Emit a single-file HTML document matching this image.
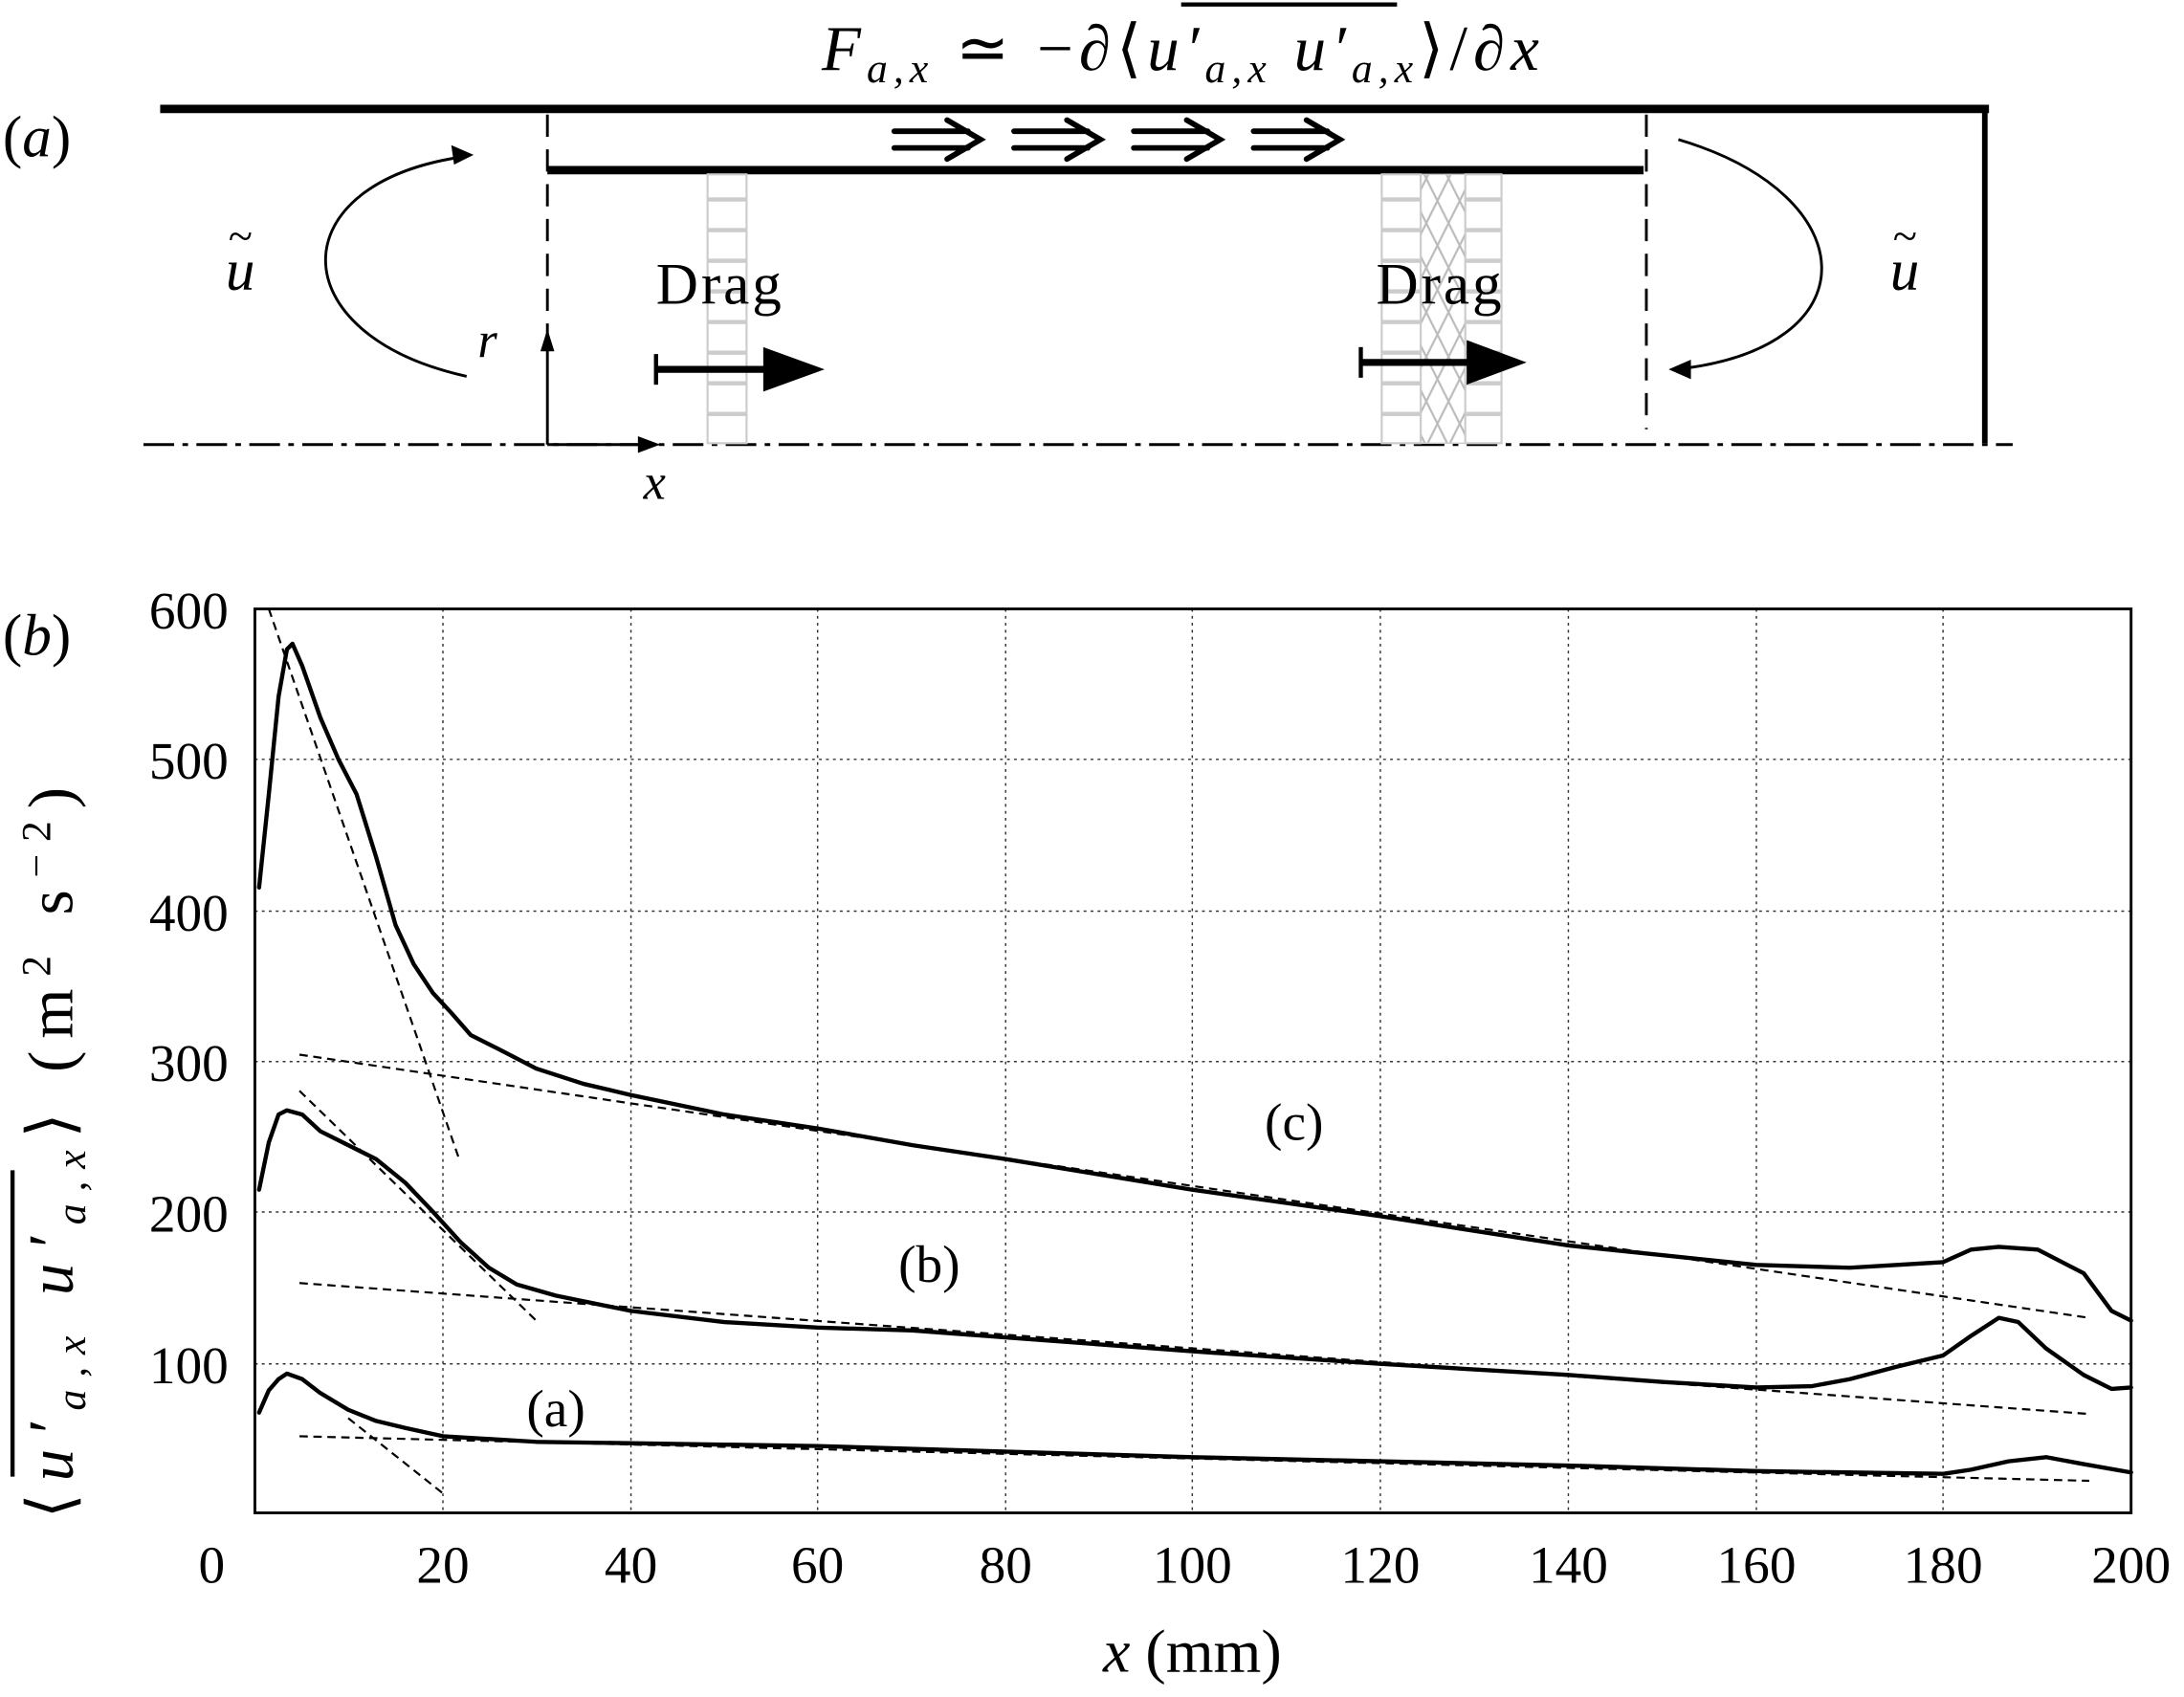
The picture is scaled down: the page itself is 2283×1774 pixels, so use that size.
<!DOCTYPE html>
<html><head><meta charset="utf-8"><style>
html,body{margin:0;padding:0;background:#fff;}
svg{display:block;}
text{font-family:"Liberation Serif",serif;fill:#000;}
</style></head><body>
<svg width="2283" height="1774" viewBox="0 0 1568 1218" xmlns="http://www.w3.org/2000/svg">
<defs>
<pattern id="lad" width="28" height="22" patternUnits="userSpaceOnUse">
<rect x="0" y="0" width="28" height="22" fill="#fff"/>
<line x1="0" y1="11" x2="28" y2="11" stroke="#ccc" stroke-width="3"/>
</pattern>
<pattern id="xh" width="16" height="32" patternUnits="userSpaceOnUse">
<path d="M0 0 L16 32 M16 0 L0 32" stroke="#bbb" stroke-width="1.5" fill="none"/>
</pattern>
</defs>
<!-- Title -->
<text x="590" y="50" font-size="46" font-style="italic" textLength="515" lengthAdjust="spacing">F<tspan font-size="30" dy="9">a,x</tspan><tspan dy="-9" font-style="normal"> ≃  −∂⟨</tspan><tspan>u′</tspan><tspan font-size="30" dy="9">a,x</tspan><tspan dy="-9"> u′</tspan><tspan font-size="30" dy="9">a,x</tspan><tspan dy="-9" font-style="normal">⟩/∂</tspan>x</text>
<line x1="848" y1="3" x2="1003" y2="3" stroke="#000" stroke-width="3"/>
<text x="2" y="112" font-size="42"><tspan>(</tspan><tspan font-style="italic">a</tspan><tspan>)</tspan></text>
<!-- walls -->
<line x1="115" y1="78" x2="1428" y2="78" stroke="#000" stroke-width="6"/>
<line x1="1425" y1="78" x2="1425" y2="318" stroke="#000" stroke-width="4"/>
<line x1="393" y1="122" x2="1180" y2="122" stroke="#000" stroke-width="6"/>
<line x1="393" y1="82" x2="393" y2="240" stroke="#000" stroke-width="2" stroke-dasharray="16,9"/>
<line x1="1182" y1="82" x2="1182" y2="308" stroke="#000" stroke-width="2" stroke-dasharray="16,9"/>
<line x1="103" y1="319" x2="1445" y2="319" stroke="#000" stroke-width="2" stroke-dasharray="22,6,4,6"/>
<!-- hatched bars -->
<rect x="508" y="125" width="28" height="193" fill="url(#lad)" stroke="#ccc" stroke-width="1.5"/>
<rect x="992" y="125" width="28" height="193" fill="url(#lad)" stroke="#ccc" stroke-width="1.5"/>
<rect x="1052" y="125" width="26" height="193" fill="url(#lad)" stroke="#ccc" stroke-width="1.5"/>
<rect x="1020" y="125" width="32" height="193" fill="url(#xh)" stroke="#ccc" stroke-width="1"/>
<!-- axes arrows -->
<line x1="393" y1="319" x2="393" y2="248" stroke="#000" stroke-width="2"/>
<polygon points="393,236 388,252 398,252" fill="#000"/>
<line x1="393" y1="319" x2="460" y2="319" stroke="#000" stroke-width="2"/>
<polygon points="474,319 458,313 458,325" fill="#000"/>
<text x="343" y="256" font-size="36" font-style="italic">r</text>
<text x="462" y="358" font-size="36" font-style="italic">x</text>
<!-- Drag -->
<text x="471" y="218" font-size="42" textLength="90">Drag</text>
<text x="988" y="218" font-size="42" textLength="90">Drag</text>
<line x1="471" y1="254" x2="471" y2="276" stroke="#000" stroke-width="3"/>
<line x1="471" y1="265" x2="550" y2="265" stroke="#000" stroke-width="5"/>
<polygon points="548,249 592,265 548,281" fill="#000"/>
<line x1="977" y1="249" x2="977" y2="271" stroke="#000" stroke-width="3"/>
<line x1="977" y1="260" x2="1055" y2="260" stroke="#000" stroke-width="5"/>
<polygon points="1053,244 1096,260 1053,276" fill="#000"/>
<!-- double arrows -->
<g stroke="#000" stroke-width="4" fill="none" stroke-linecap="round">
<path d="M642,94 H695 M642,106 H695 M680,86 L704,100 L680,114"/>
<path d="M728,94 H781 M728,106 H781 M766,86 L790,100 L766,114"/>
<path d="M814,94 H867 M814,106 H867 M852,86 L876,100 L852,114"/>
<path d="M900,94 H953 M900,106 H953 M938,86 L962,100 L938,114"/>
</g>
<!-- loops -->
<path d="M335,270 C200,240 200,130 335,112" fill="none" stroke="#000" stroke-width="2"/>
<polygon points="340,111 324,104 326,118" fill="#000"/>
<path d="M1205,100 C1340,140 1345,250 1203,265" fill="none" stroke="#000" stroke-width="2"/>
<polygon points="1198,265 1214,258 1214,272" fill="#000"/>
<text x="162" y="208" font-size="42" font-style="italic">u</text>
<text x="164" y="180" font-size="32">~</text>
<text x="1357" y="208" font-size="42" font-style="italic">u</text>
<text x="1359" y="180" font-size="32">~</text>

<!-- Plot b -->
<text x="2" y="470" font-size="42"><tspan>(</tspan><tspan font-style="italic">b</tspan><tspan>)</tspan></text>
<g stroke="#333" stroke-width="1" stroke-dasharray="2,3">
<line x1="318" y1="437" x2="318" y2="1086"/><line x1="453" y1="437" x2="453" y2="1086"/>
<line x1="587" y1="437" x2="587" y2="1086"/><line x1="722" y1="437" x2="722" y2="1086"/>
<line x1="856" y1="437" x2="856" y2="1086"/><line x1="991" y1="437" x2="991" y2="1086"/>
<line x1="1126" y1="437" x2="1126" y2="1086"/><line x1="1261" y1="437" x2="1261" y2="1086"/>
<line x1="1395" y1="437" x2="1395" y2="1086"/>
<line x1="183" y1="545" x2="1530" y2="545"/><line x1="183" y1="654" x2="1530" y2="654"/>
<line x1="183" y1="762" x2="1530" y2="762"/><line x1="183" y1="870" x2="1530" y2="870"/>
<line x1="183" y1="979" x2="1530" y2="979"/>
</g>
<rect x="183" y="437" width="1347" height="649" fill="none" stroke="#000" stroke-width="2"/>
<g font-size="38" text-anchor="middle">
<text x="152" y="1136">0</text><text x="318" y="1136">20</text><text x="453" y="1136">40</text>
<text x="587" y="1136">60</text><text x="722" y="1136">80</text><text x="856" y="1136">100</text>
<text x="991" y="1136">120</text><text x="1126" y="1136">140</text><text x="1261" y="1136">160</text>
<text x="1395" y="1136">180</text><text x="1530" y="1136">200</text>
</g>
<g font-size="38" text-anchor="end">
<text x="164" y="451">600</text><text x="164" y="559">500</text><text x="164" y="668">400</text>
<text x="164" y="776">300</text><text x="164" y="884">200</text><text x="164" y="993">100</text>
</g>
<text x="856" y="1200" font-size="44" text-anchor="middle"><tspan font-style="italic">x</tspan> (mm)</text>
<text transform="translate(52,1090) rotate(-90)" font-size="46" textLength="525" lengthAdjust="spacing">⟨<tspan font-style="italic">u′</tspan><tspan font-size="30" font-style="italic" dy="9">a,x</tspan><tspan dy="-9" font-style="italic"> u′</tspan><tspan font-size="30" font-style="italic" dy="9">a,x</tspan><tspan dy="-9">⟩ (m</tspan><tspan font-size="30" dy="-16">2</tspan><tspan dy="16"> s</tspan><tspan font-size="30" dy="-16">−2</tspan><tspan dy="16">)</tspan></text>
<line x1="9" y1="840" x2="9" y2="1060" stroke="#000" stroke-width="3"/>
<!-- dashed fits -->
<g stroke="#000" stroke-width="1.5" stroke-dasharray="6,4" fill="none">
<line x1="193" y1="437" x2="330" y2="833"/>
<line x1="215" y1="757" x2="1500" y2="946"/>
<line x1="215" y1="783" x2="385" y2="948"/>
<line x1="215" y1="921" x2="1500" y2="1015"/>
<line x1="250" y1="1018" x2="318" y2="1072"/>
<line x1="215" y1="1031" x2="1500" y2="1063"/>
</g>
<g stroke="#000" stroke-width="3" fill="none" stroke-linejoin="round" stroke-linecap="round">
<polyline points="186,637 193,570 200,500 206,466 210,462 217,478 230,515 243,545 256,570 270,615 284,664 297,692 311,713 324,727 338,743 358,753 385,767 419,778 453,786 520,800 587,810 655,822 722,832 789,843 856,854 991,873 1126,894 1194,901 1261,908 1328,910 1362,908 1395,906 1415,897 1435,895 1463,897 1496,914 1516,941 1530,948"/>
<polyline points="186,854 193,820 200,800 206,797 217,800 230,812 250,822 270,832 291,849 311,870 331,892 351,910 371,922 399,930 453,941 520,949 587,953 655,955 722,960 856,970 991,979 1126,987 1194,992 1261,996 1301,995 1328,990 1362,981 1395,973 1415,959 1435,946 1449,949 1469,968 1496,987 1516,997 1530,996"/>
<polyline points="186,1014 193,998 200,990 206,986 217,990 230,1000 250,1012 270,1020 291,1025 318,1031 385,1035 587,1038 856,1046 1126,1052 1261,1056 1395,1058 1415,1055 1442,1049 1469,1046 1496,1051 1530,1057"/>
</g>
<text x="908" y="818" font-size="38">(c)</text>
<text x="645" y="920" font-size="38">(b)</text>
<text x="378" y="1024" font-size="38">(a)</text>
</svg>
</body></html>
